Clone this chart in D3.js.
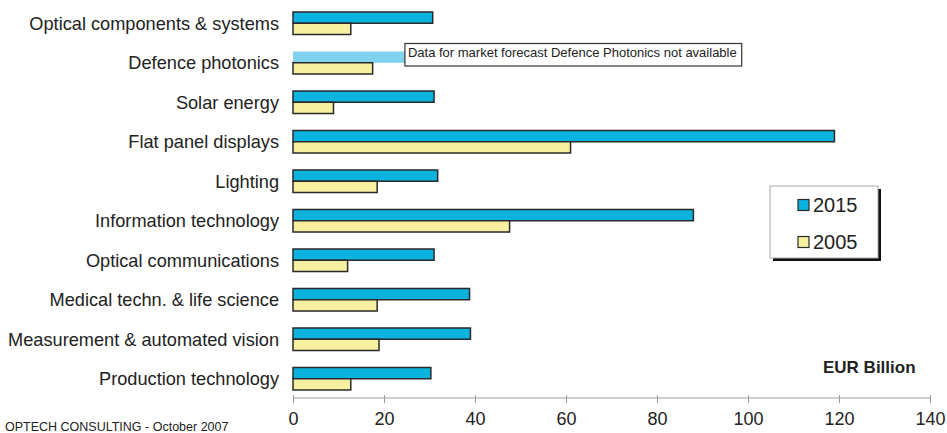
<!DOCTYPE html>
<html>
<head>
<meta charset="utf-8">
<script src="https://cdn.jsdelivr.net/npm/d3@7"></script>
<style>
  body { margin: 0; background: #fff; }
  svg text { font-family: "Liberation Sans", Arial, sans-serif; fill: #222; }
</style>
</head>
<body>
<script>
// market by application, EUR billion
var categories = [
  "Optical components & systems",
  "Defence photonics",
  "Solar energy",
  "Flat panel displays",
  "Lighting",
  "Information technology",
  "Optical communications",
  "Medical techn. & life science",
  "Measurement & automated vision",
  "Production technology"
];
var series = ["2015", "2005"];
var values2015 = [30.7, null, 31, 119, 31.8, 88, 31, 38.8, 39, 30.3];
var values2005 = [12.7, 17.5, 8.9, 61, 18.5, 47.6, 12, 18.5, 18.9, 12.7];
// defence 2015 has no forecast, only a faded stub under the note
var defenceStub = 24.6;
var xTicks = [0, 20, 40, 60, 80, 100, 120, 140];

var colors = { "2015": "#0ab2de", "2005": "#f6f0a0" };

var W = 947, H = 433;
var svg = d3.select("body").append("svg").attr("width", W).attr("height", H);

var x = d3.scaleLinear().domain([0, 140]).range([293, 930]);
var y = d3.scaleBand().domain(categories).range([3.5, 398.5]).paddingInner(0.43).paddingOuter(0.215);
var ySub = d3.scaleBand().domain(series).range([0, y.bandwidth()]);

var rows = categories.map(function (c, i) {
  return { name: c, "2015": values2015[i], "2005": values2005[i] };
});

// category labels
svg.append("g").selectAll("text").data(categories).enter().append("text")
  .attr("x", 279)
  .attr("y", function (d) { return y(d) + y.bandwidth() / 2; })
  .attr("dy", "0.35em")
  .attr("text-anchor", "end")
  .style("font-size", "18.2px")
  .text(function (d) { return d; });

// axis
var axis = svg.append("g").attr("transform", "translate(0,398)")
  .call(d3.axisBottom(x).tickValues(xTicks).tickSize(5).tickPadding(9).tickFormat(d3.format("d")));
axis.select(".domain").attr("stroke", "#9a9a9a").attr("d", "M" + x(0) + ",0H" + x(140));
axis.selectAll(".tick line").attr("stroke", "#9a9a9a").attr("y1", -3).attr("y2", 5);
axis.selectAll(".tick text").style("font-size", "18px").attr("fill", "#222");

// stub bar for defence photonics
svg.append("rect")
  .attr("x", x(0))
  .attr("y", y(categories[1]) + ySub("2015"))
  .attr("width", x(defenceStub) - x(0))
  .attr("height", ySub.bandwidth())
  .attr("fill", "#80d3ef");

// bars
var groups = svg.append("g").selectAll("g").data(rows).enter().append("g")
  .attr("transform", function (d) { return "translate(0," + y(d.name) + ")"; });

groups.selectAll("rect")
  .data(function (d) {
    return series.map(function (s) { return { key: s, value: d[s] }; })
      .filter(function (e) { return e.value != null; });
  })
  .enter().append("rect")
  .attr("x", x(0))
  .attr("y", function (d) { return ySub(d.key); })
  .attr("width", function (d) { return x(d.value) - x(0); })
  .attr("height", ySub.bandwidth())
  .attr("fill", function (d) { return colors[d.key]; })
  .attr("stroke", "#2a2a2a")
  .attr("stroke-width", 1.5);

// note box for defence photonics
var noteY = y(categories[1]) - 8;
var note = svg.append("g");
var noteRect = note.append("rect")
  .attr("x", x(defenceStub))
  .attr("y", noteY)
  .attr("height", 22.5)
  .attr("fill", "#fff")
  .attr("stroke", "#333")
  .attr("stroke-width", 1.2);
var noteText = note.append("text")
  .attr("x", x(defenceStub) + 3)
  .attr("y", noteY + 9)
  .attr("dy", "0.35em")
  .style("font-size", "13px")
  .text("Data for market forecast Defence Photonics not available");
noteRect.attr("width", noteText.node().getComputedTextLength() + 8);

// legend
var lg = svg.append("g").attr("transform", "translate(770,186)");
lg.append("rect").attr("x", 3).attr("y", 3).attr("width", 108).attr("height", 72).attr("fill", "#111");
lg.append("rect").attr("width", 108).attr("height", 72).attr("fill", "#fff").attr("stroke", "#aaa");
var items = lg.selectAll(".item").data(series).enter().append("g")
  .attr("transform", function (d, i) { return "translate(28," + (19 + i * 37) + ")"; });
items.append("rect").attr("x", 0).attr("y", -5.5).attr("width", 11).attr("height", 11)
  .attr("fill", function (d) { return colors[d]; })
  .attr("stroke", "#2a2a2a").attr("stroke-width", 1.2);
items.append("text").attr("x", 15).attr("dy", "0.36em").style("font-size", "20px")
  .text(function (d) { return d; });

// unit and source
svg.append("text").attr("x", 823).attr("y", 367).attr("dy", "0.35em")
  .style("font-size", "17px").style("font-weight", "bold").text("EUR Billion");
svg.append("text").attr("x", 5).attr("y", 427).attr("dy", "0.35em")
  .style("font-size", "12.5px").text("OPTECH CONSULTING - October 2007");
</script>
</body>
</html>
